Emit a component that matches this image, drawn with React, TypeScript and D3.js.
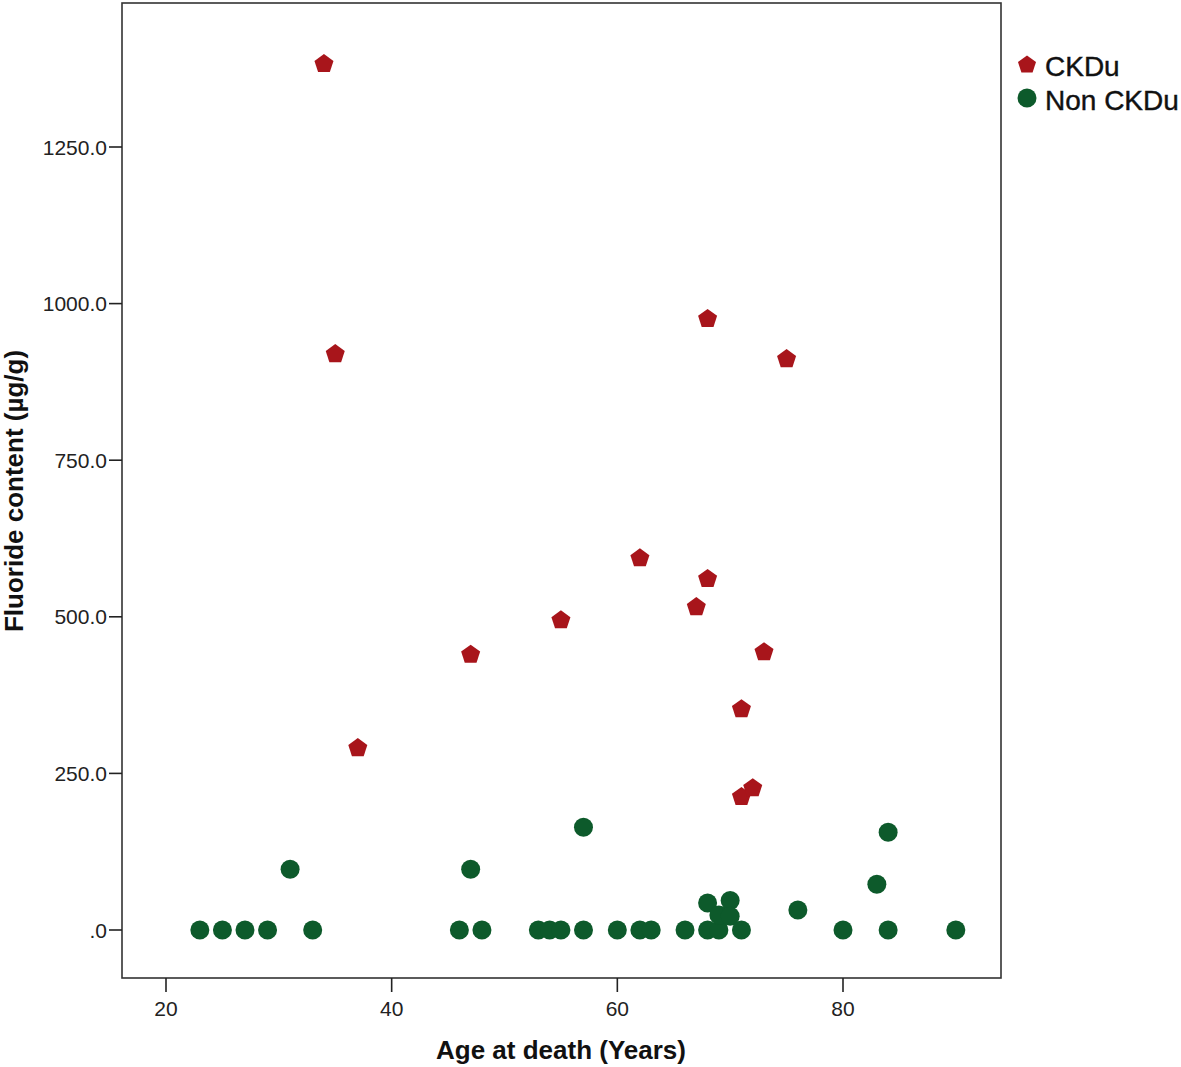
import React from 'react';
import * as d3 from 'd3';

// CKDu group
const ckduAge = [34, 35, 37, 47, 55, 62, 67, 68, 68, 71, 71, 72, 73, 75];
const ckduFluoride = [1384, 921, 292, 441, 496, 595, 517, 562, 977, 354, 214, 228, 445, 913];

// Non CKDu group
const nonAge = [23, 25, 27, 29, 31, 33, 46, 47, 48, 53, 54, 55, 57, 57, 60, 62, 63, 66, 68, 68, 69, 69, 70, 70, 71, 76, 80, 83, 84, 84, 90];
const nonFluoride = [0, 0, 0, 0, 97, 0, 0, 97, 0, 0, 0, 0, 0, 164, 0, 0, 0, 0, 0, 43, 0, 24, 47, 22, 0, 32, 0, 73, 0, 156, 0];

const xTicks = [20, 40, 60, 80];
const yTicks = [0, 250, 500, 750, 1000, 1250];

const RED = '#a8151b';
const GREEN = '#0d5a2b';
const FONT = '"Liberation Sans", Arial, sans-serif';

const W = 1181;
const H = 1067;
const frame = { left: 122, right: 1001, top: 3, bottom: 978 };

// pentagon path, point up, centred on its bounding box
const pentagon = (r: number) => {
  const shift = r * (1 - Math.cos(Math.PI / 5)) / 2;
  const pts = d3.range(5).map(i => {
    const a = -Math.PI / 2 + (i * 2 * Math.PI) / 5;
    return [r * Math.cos(a), r * Math.sin(a) + shift];
  });
  return d3.line()(pts as [number, number][]) + 'Z';
};

const fmtY = (v: number) => (v === 0 ? '.0' : v.toFixed(1));

const App = () => {
  const x = d3.scaleLinear().domain([20, 80]).range([166, 843]);
  const y = d3.scaleLinear().domain([0, 1250]).range([930, 147]);
  const penta = pentagon(10);

  return (
    <svg width={W} height={H} style={{ position: 'absolute', left: 0, top: 0, background: '#fff' }} fontFamily={FONT}>
      <rect x={frame.left} y={frame.top} width={frame.right - frame.left} height={frame.bottom - frame.top}
        fill="none" stroke="#333" strokeWidth={1.6} />

      {/* y axis */}
      {yTicks.map(t => (
        <g key={t} transform={`translate(0,${y(t)})`}>
          <line x1={109} x2={frame.left} stroke="#222" strokeWidth={1.6} />
          <text x={107} dy="0.36em" textAnchor="end" fontSize={21} fill="#222">{fmtY(t)}</text>
        </g>
      ))}

      {/* x axis */}
      {xTicks.map(t => (
        <g key={t} transform={`translate(${x(t)},0)`}>
          <line y1={frame.bottom} y2={frame.bottom + 14} stroke="#222" strokeWidth={1.6} />
          <text y={1016} textAnchor="middle" fontSize={21} fill="#222">{t}</text>
        </g>
      ))}

      <text x={561} y={1059} textAnchor="middle" fontSize={26} fontWeight="bold" fill="#111">Age at death (Years)</text>
      <text transform="translate(23,491) rotate(-90)" textAnchor="middle" fontSize={26} fontWeight="bold" fill="#111">
        Fluoride content (µg/g)
      </text>

      {/* Non CKDu points */}
      {nonAge.map((a, i) => (
        <circle key={'n' + i} cx={x(a)} cy={y(nonFluoride[i])} r={9.5} fill={GREEN} />
      ))}

      {/* CKDu points */}
      {ckduAge.map((a, i) => (
        <path key={'c' + i} d={penta} transform={`translate(${x(a)},${y(ckduFluoride[i])})`} fill={RED} />
      ))}

      {/* legend */}
      <path d={pentagon(9.5)} transform="translate(1027,64)" fill={RED} />
      <text x={1045} y={66} dy="0.36em" fontSize={28} fill="#111" stroke="#111" strokeWidth={0.4}>CKDu</text>
      <circle cx={1027} cy={98} r={9.5} fill={GREEN} />
      <text x={1045} y={100} dy="0.36em" fontSize={28} fill="#111" stroke="#111" strokeWidth={0.4}>Non CKDu</text>
    </svg>
  );
};

export default App;
